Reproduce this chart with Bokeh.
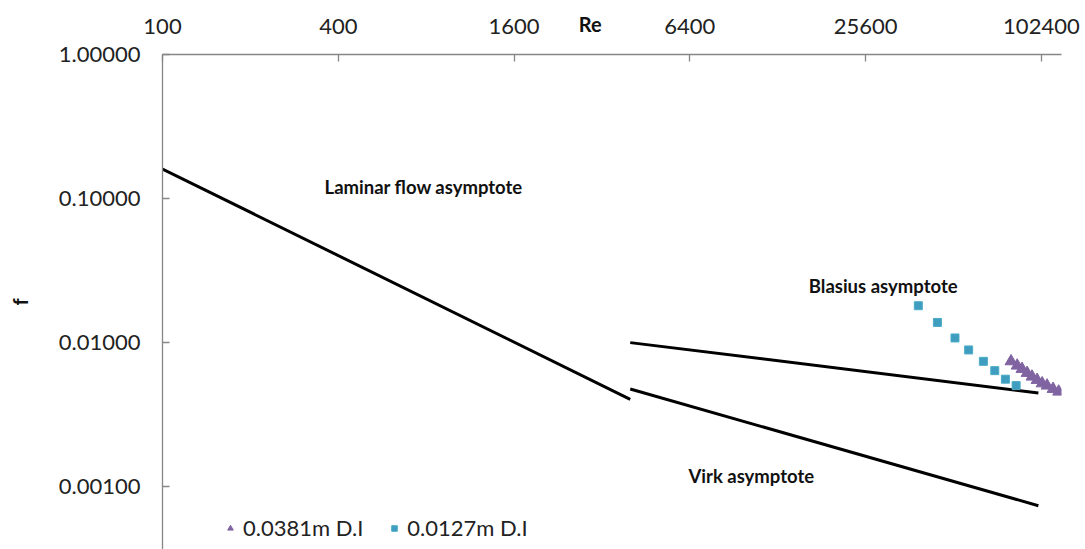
from bokeh.plotting import figure
from bokeh.models import FixedTicker, Label, Legend, LegendItem, Range1d
from bokeh.embed import file_html
from bokeh.resources import INLINE

# ---- data ----
x_ticks = [100, 400, 1600, 6400, 25600, 102400]
x_tick_labels = ["100", "400", "1600", "6400", "25600", "102400"]
y_ticks = [0.001, 0.01, 0.1, 1.0]
y_tick_labels = ["0.00100", "0.01000", "0.10000", "1.00000"]

laminar_re = [100, 4000]
laminar_f = [0.16, 0.004]
blasius_re = [4000, 100000]
blasius_f = [0.00993, 0.00444]
virk_re = [4000, 100000]
virk_f = [0.00473, 0.00073]

d0381_re = [80600, 84600, 87900, 91500, 95100, 99000, 103000, 107100, 112300, 117400]
d0381_f = [0.00736, 0.00687, 0.00651, 0.00611, 0.00576, 0.00546, 0.00517, 0.00499, 0.00473, 0.00453]
d0127_re = [38800, 45100, 51800, 57700, 64800, 70900, 77100, 83900]
d0127_f = [0.01793, 0.01372, 0.01070, 0.00883, 0.00736, 0.00634, 0.00553, 0.00499]

FONT = "Lato"
AXIS_GRAY = "#868686"

p = figure(width=1085, height=549, x_axis_type="log", y_axis_type="log",
           x_axis_location="above",
           x_range=Range1d(100, 120000), y_range=Range1d(0.000362, 1.0),
           output_backend="svg", toolbar_location=None,
           min_border_left=162, min_border_right=24, min_border_top=54, min_border_bottom=0)
p.outline_line_color = None
p.grid.visible = False
p.background_fill_color = "white"

for ax in (p.xaxis[0], p.yaxis[0]):
    ax.axis_line_color = AXIS_GRAY
    ax.axis_line_width = 1.3
    ax.major_tick_line_color = AXIS_GRAY
    ax.major_tick_line_width = 1.3
    ax.major_tick_in = 7
    ax.major_tick_out = 0
    ax.minor_tick_in = 0
    ax.minor_tick_out = 0
    ax.major_label_text_font = FONT
    ax.major_label_text_font_size = "22px"
    ax.major_label_text_color = "#222222"

xa = p.xaxis[0]
xa.ticker = FixedTicker(ticks=x_ticks)
xa.major_label_overrides = {t: l for t, l in zip(x_ticks, x_tick_labels)}
xa.major_label_standoff = 21
# x-axis title sits in the tick-label row, left of centre, as in the original
xa.axis_label = "Re" + "\u00a0" * 9
xa.axis_label_text_font = FONT
xa.axis_label_text_font_size = "20px"
xa.axis_label_text_font_style = "bold"
xa.axis_label_text_color = "#111111"
xa.axis_label_standoff = -20

ya = p.yaxis[0]
ya.ticker = FixedTicker(ticks=y_ticks)
ya.major_label_overrides = {t: l for t, l in zip(y_ticks, y_tick_labels)}
ya.major_label_standoff = 22
ya.axis_label = "f"
ya.axis_label_text_font = FONT
ya.axis_label_text_font_size = "20px"
ya.axis_label_text_font_style = "bold"
ya.axis_label_text_color = "#111111"
ya.axis_label_standoff = 24

# asymptote lines
p.line(laminar_re, laminar_f, line_color="black", line_width=3)
p.line(blasius_re, blasius_f, line_color="black", line_width=3)
p.line(virk_re, virk_f, line_color="black", line_width=3)

# data
r1 = p.scatter(d0381_re, d0381_f, marker="triangle", size=12,
               fill_color="#8064A2", line_color="#8064A2")
r2 = p.scatter(d0127_re, d0127_f, marker="square", size=8,
               fill_color="#3F9DC0", line_color="#4BACC6")

# annotations
ann_style = dict(text_font=FONT, text_font_size="18.5px", text_font_style="bold",
                 text_color="#111111", text_baseline="middle", text_align="left")
p.add_layout(Label(x=359, y=0.120, text="Laminar flow asymptote", **ann_style))
p.add_layout(Label(x=16350, y=0.0247, text="Blasius asymptote", **ann_style))
p.add_layout(Label(x=6330, y=0.00118, text="Virk asymptote", **ann_style))

legend = Legend(items=[LegendItem(label="0.0381m D.I", renderers=[r1]),
                       LegendItem(label="0.0127m D.I", renderers=[r2])],
                orientation="horizontal", location=(61, 8))
legend.border_line_color = None
legend.background_fill_alpha = 0
legend.padding = 0
legend.margin = 0
legend.glyph_width = 14
legend.glyph_height = 14
legend.label_standoff = 6
legend.spacing = 24
legend.label_text_font = FONT
legend.label_text_font_size = "22px"
legend.label_text_color = "#222222"
p.add_layout(legend)

open("out.html", "w").write(file_html(p, INLINE))
